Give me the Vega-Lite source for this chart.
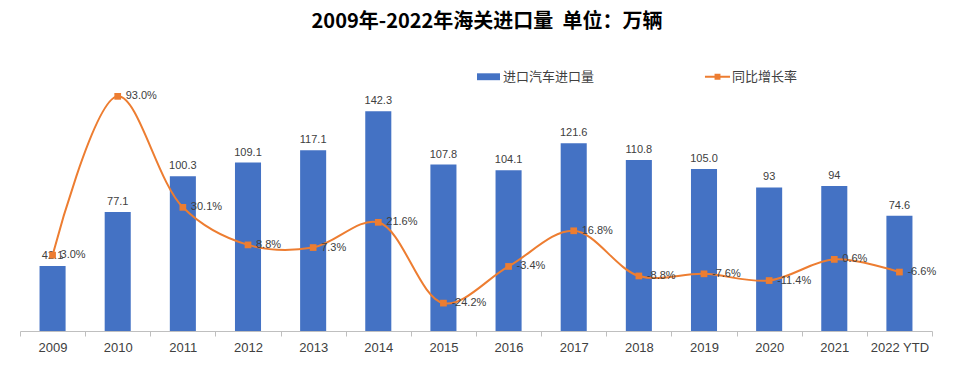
{
  "$schema": "https://vega.github.io/schema/vega-lite/v6.json",
  "autosize": {"type": "none"},
  "padding": {"left": 20, "top": 84, "right": 38, "bottom": 40},
  "width": 912,
  "height": 247,
  "background": "#ffffff",
  "title": {
    "text": "2009年-2022年海关进口量\u00a0\u00a0单位：万辆",
    "font": "Noto Sans CJK SC",
    "fontSize": 20,
    "fontWeight": "bold",
    "color": "#000000",
    "anchor": "middle",
    "offset": 38,
    "dx": 11
  },
  "data": {
    "values": [
      {"year": "2009", "vol": 42.1, "volLabel": "42.1", "yoy": 3.0, "yoyLabel": "3.0%"},
      {"year": "2010", "vol": 77.1, "volLabel": "77.1", "yoy": 93.0, "yoyLabel": "93.0%"},
      {"year": "2011", "vol": 100.3, "volLabel": "100.3", "yoy": 30.1, "yoyLabel": "30.1%"},
      {"year": "2012", "vol": 109.1, "volLabel": "109.1", "yoy": 8.8, "yoyLabel": "8.8%"},
      {"year": "2013", "vol": 117.1, "volLabel": "117.1", "yoy": 7.3, "yoyLabel": "7.3%"},
      {"year": "2014", "vol": 142.3, "volLabel": "142.3", "yoy": 21.6, "yoyLabel": "21.6%"},
      {"year": "2015", "vol": 107.8, "volLabel": "107.8", "yoy": -24.2, "yoyLabel": "-24.2%"},
      {"year": "2016", "vol": 104.1, "volLabel": "104.1", "yoy": -3.4, "yoyLabel": "-3.4%"},
      {"year": "2017", "vol": 121.6, "volLabel": "121.6", "yoy": 16.8, "yoyLabel": "16.8%"},
      {"year": "2018", "vol": 110.8, "volLabel": "110.8", "yoy": -8.8, "yoyLabel": "-8.8%"},
      {"year": "2019", "vol": 105.0, "volLabel": "105.0", "yoy": -7.6, "yoyLabel": "-7.6%"},
      {"year": "2020", "vol": 93, "volLabel": "93", "yoy": -11.4, "yoyLabel": "-11.4%"},
      {"year": "2021", "vol": 94, "volLabel": "94", "yoy": 0.6, "yoyLabel": "0.6%"},
      {"year": "2022 YTD", "vol": 74.6, "volLabel": "74.6", "yoy": -6.6, "yoyLabel": "-6.6%"}
    ]
  },
  "encoding": {
    "x": {
      "field": "year",
      "type": "ordinal",
      "sort": null,
      "scale": {"paddingInner": 0, "paddingOuter": 0},
      "axis": {
        "title": null,
        "labelAngle": 0,
        "tickBand": "extent",
        "domainColor": "#bfbfbf",
        "tickColor": "#bfbfbf",
        "tickSize": 5,
        "labelFont": "Liberation Sans",
        "labelFontSize": 13,
        "labelColor": "#404040",
        "labelPadding": 5,
        "grid": false
      }
    }
  },
  "layer": [
    {
      "layer": [
        {
          "mark": {"type": "bar", "width": {"band": 0.4}},
          "encoding": {
            "y": {"field": "vol", "type": "quantitative", "scale": {"domain": [0, 160]}, "axis": null},
            "color": {
              "datum": "进口汽车进口量",
              "legend": {
                "encode": {
                  "symbols": {
                    "update": {
                      "shape": {"signal": "datum.value === '同比增长率' ? 'M-1.09,0H1.09M-0.17,-0.17H0.17V0.17H-0.17Z' : 'M-1,-0.3H1V0.3H-1Z'"},
                      "strokeWidth": {"signal": "datum.value === '同比增长率' ? 2 : 0"},
                      "stroke": {"signal": "datum.value === '同比增长率' ? '#ED7D31' : '#4472C4'"},
                      "fill": {"signal": "datum.value === '同比增长率' ? '#ED7D31' : '#4472C4'"}
                    }
                  }
                }
              }
            }
          }
        },
        {
          "mark": {"type": "text", "baseline": "bottom", "dy": -5, "font": "Liberation Sans", "fontSize": 11, "color": "#404040"},
          "encoding": {
            "y": {"field": "vol", "type": "quantitative", "scale": {"domain": [0, 160]}, "axis": null},
            "text": {"field": "volLabel"}
          }
        }
      ]
    },
    {
      "layer": [
        {
          "mark": {"type": "line", "interpolate": "catmull-rom", "strokeWidth": 2, "point": {"shape": "square", "size": 45, "filled": true}},
          "encoding": {
            "y": {"field": "yoy", "type": "quantitative", "scale": {"domain": [-40, 100]}, "axis": null},
            "color": {"datum": "同比增长率"}
          }
        },
        {
          "mark": {"type": "text", "align": "left", "baseline": "middle", "dx": 8, "font": "Liberation Sans", "fontSize": 11, "color": "#404040"},
          "encoding": {
            "y": {"field": "yoy", "type": "quantitative", "scale": {"domain": [-40, 100]}, "axis": null},
            "text": {"field": "yoyLabel"}
          }
        }
      ]
    }
  ],
  "resolve": {"scale": {"y": "independent"}},
  "config": {
    "view": {"stroke": null},
    "range": {"category": ["#4472C4", "#ED7D31"]},
    "legend": {
      "orient": "none",
      "legendX": 462,
      "legendY": -14,
      "direction": "horizontal",
      "title": null,
      "padding": 0,
      "symbolSize": 529,
      "labelFont": "Noto Sans CJK SC",
      "labelFontSize": 13,
      "labelColor": "#404040",
      "labelOffset": 8,
      "columnPadding": 105
    }
  }
}
